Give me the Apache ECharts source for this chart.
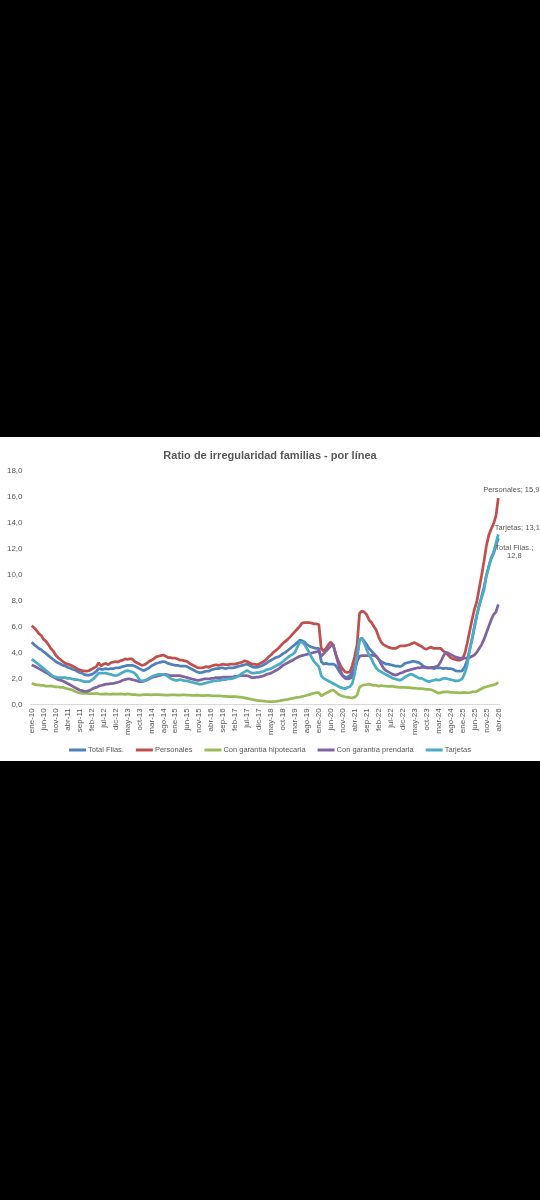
<!DOCTYPE html>
<html>
<head>
<meta charset="utf-8">
<script src="https://cdn.jsdelivr.net/npm/echarts@6/dist/echarts.min.js"></script>
<style>
  html, body { margin: 0; padding: 0; background: #000; }
  #panel { position: absolute; left: 0; top: 437px; width: 540px; height: 324px; background: #fff; }
  #chart { position: absolute; left: 0; top: 0; width: 540px; height: 1200px; }
</style>
</head>
<body>
<div id="panel"></div>
<div id="chart"></div>
<script>
// ---- tick labels / categories ----
const monthNames = ['ene','feb','mar','abr','may','jun','jul','ago','sep','oct','nov','dic'];
const years = [2010,2011,2012,2013,2014,2015,2016,2017,2018,2019,2020,2021,2022,2023,2024,2025,2026];
const lastMonthOfLastYear = 4; // abr-26
const categories = [];
years.forEach(function (y, yi) {
  const n = (yi === years.length - 1) ? lastMonthOfLastYear : 12;
  for (let m = 0; m < n; m++) categories.push(monthNames[m] + '-' + String(y).slice(2));
});

// ---- series values (monthly, ene-10 .. abr-26) ----
const totalFlias = [
  4.78,4.6,4.45,4.3,4.2,4.05,3.9,3.75,3.6,3.45,3.3,3.2,
  3.1,3.0,2.95,2.85,2.8,2.7,2.65,2.55,2.45,2.4,2.3,2.25,
  2.25,2.3,2.4,2.55,2.75,2.7,2.7,2.75,2.7,2.75,2.75,2.8,
  2.8,2.85,2.9,2.95,3.0,3.0,3.0,2.95,2.85,2.75,2.65,2.6,
  2.7,2.8,2.95,3.05,3.15,3.2,3.25,3.3,3.25,3.15,3.1,3.05,
  3.0,3.0,2.95,2.95,2.95,2.9,2.8,2.7,2.6,2.5,2.45,2.45,
  2.5,2.55,2.55,2.65,2.7,2.75,2.75,2.8,2.8,2.75,2.8,2.8,
  2.8,2.85,2.9,2.95,3.0,3.05,3.1,3.0,2.9,2.85,2.85,2.9,
  2.95,3.05,3.15,3.3,3.4,3.5,3.6,3.65,3.75,3.9,4.0,4.15,
  4.3,4.45,4.6,4.75,4.95,4.9,4.8,4.6,4.5,4.4,4.35,4.3,
  4.3,3.3,3.1,3.15,3.1,3.1,3.1,3.0,2.7,2.4,2.2,2.1,
  2.1,2.2,2.5,2.9,3.6,4.95,5.1,4.85,4.6,4.3,4.1,3.9,
  3.7,3.45,3.3,3.2,3.1,3.1,3.05,3.0,2.95,2.95,2.9,3.0,
  3.15,3.2,3.25,3.3,3.3,3.25,3.2,3.05,2.9,2.85,2.8,2.8,
  2.75,2.8,2.8,2.8,2.75,2.8,2.75,2.75,2.7,2.6,2.55,2.55,
  2.6,2.9,3.4,4.2,5.0,5.9,6.8,7.6,8.3,9.0,9.9,10.6,
  11.2,11.6,12.2,12.8
];
const personales = [
  6.05,5.9,5.7,5.45,5.3,5.0,4.85,4.6,4.3,4.1,3.8,3.6,
  3.45,3.3,3.15,3.1,3.05,2.95,2.85,2.75,2.65,2.6,2.58,2.55,
  2.6,2.7,2.8,2.9,3.2,2.95,3.1,3.15,3.05,3.2,3.25,3.3,
  3.25,3.35,3.4,3.5,3.45,3.5,3.5,3.3,3.2,3.1,3.0,3.05,
  3.15,3.3,3.4,3.5,3.65,3.7,3.75,3.8,3.7,3.6,3.6,3.55,
  3.55,3.5,3.4,3.4,3.35,3.3,3.15,3.05,2.95,2.85,2.8,2.8,
  2.85,2.9,2.85,2.95,3.0,3.05,3.0,3.05,3.1,3.05,3.05,3.1,
  3.1,3.1,3.15,3.2,3.25,3.35,3.3,3.2,3.1,3.1,3.05,3.1,
  3.2,3.3,3.45,3.65,3.8,4.0,4.15,4.3,4.5,4.7,4.85,5.0,
  5.2,5.4,5.6,5.8,6.0,6.25,6.3,6.3,6.3,6.25,6.2,6.2,
  6.15,4.3,4.1,4.3,4.6,4.8,4.55,3.9,3.4,3.0,2.7,2.5,
  2.45,2.5,3.0,3.7,4.6,7.0,7.2,7.1,6.9,6.5,6.3,6.0,
  5.7,5.2,4.8,4.6,4.5,4.4,4.35,4.3,4.3,4.4,4.5,4.5,
  4.5,4.55,4.6,4.7,4.75,4.65,4.55,4.45,4.3,4.25,4.35,4.4,
  4.3,4.3,4.3,4.3,4.1,4.0,3.8,3.6,3.5,3.45,3.4,3.4,
  3.5,3.9,4.7,5.6,6.5,7.3,7.9,8.9,9.9,11.0,12.2,13.0,
  13.5,13.9,14.5,15.9
];
const hipotecaria = [
  1.62,1.55,1.5,1.5,1.45,1.45,1.4,1.4,1.42,1.38,1.35,1.35,
  1.3,1.3,1.25,1.2,1.15,1.1,1.0,0.92,0.88,0.85,0.85,0.85,
  0.83,0.82,0.82,0.85,0.8,0.78,0.78,0.8,0.78,0.77,0.8,0.78,
  0.78,0.8,0.78,0.77,0.8,0.78,0.75,0.74,0.72,0.7,0.72,0.74,
  0.75,0.74,0.72,0.74,0.75,0.74,0.72,0.72,0.7,0.7,0.72,0.72,
  0.72,0.7,0.7,0.72,0.72,0.7,0.7,0.68,0.68,0.7,0.68,0.66,
  0.66,0.68,0.68,0.66,0.65,0.65,0.64,0.64,0.62,0.62,0.6,0.6,
  0.6,0.6,0.58,0.56,0.53,0.5,0.46,0.42,0.38,0.34,0.3,0.28,
  0.26,0.24,0.22,0.21,0.2,0.2,0.22,0.25,0.28,0.32,0.35,0.38,
  0.42,0.45,0.5,0.53,0.56,0.6,0.64,0.7,0.75,0.8,0.85,0.9,
  0.9,0.65,0.75,0.85,0.95,1.05,1.1,0.95,0.8,0.7,0.62,0.58,
  0.55,0.52,0.5,0.55,0.7,1.3,1.45,1.5,1.52,1.55,1.5,1.45,
  1.45,1.4,1.45,1.42,1.4,1.38,1.4,1.38,1.35,1.32,1.3,1.3,
  1.3,1.28,1.28,1.25,1.25,1.22,1.2,1.2,1.18,1.15,1.15,1.12,
  1.05,0.95,0.85,0.9,0.95,0.95,0.95,0.92,0.92,0.9,0.9,0.88,
  0.9,0.92,0.88,0.9,0.95,0.95,1.0,1.1,1.2,1.3,1.35,1.4,
  1.45,1.5,1.55,1.7
];
const prendaria = [
  3.03,2.95,2.85,2.75,2.65,2.55,2.45,2.35,2.2,2.1,2.0,1.9,
  1.85,1.8,1.7,1.6,1.5,1.4,1.3,1.2,1.1,1.05,1.0,1.0,
  1.05,1.15,1.25,1.3,1.4,1.45,1.5,1.55,1.55,1.6,1.6,1.65,
  1.7,1.75,1.85,1.9,1.95,1.95,1.9,1.85,1.8,1.75,1.75,1.8,
  1.85,1.95,2.05,2.1,2.15,2.2,2.25,2.3,2.3,2.25,2.2,2.2,
  2.2,2.2,2.2,2.15,2.1,2.05,2.0,1.95,1.9,1.85,1.85,1.9,
  1.95,1.95,1.95,2.0,2.0,2.05,2.05,2.05,2.1,2.1,2.1,2.1,
  2.1,2.15,2.15,2.2,2.2,2.2,2.2,2.15,2.05,2.05,2.1,2.1,
  2.15,2.2,2.3,2.35,2.4,2.5,2.6,2.7,2.85,3.0,3.1,3.2,
  3.3,3.4,3.5,3.6,3.7,3.75,3.8,3.85,3.9,3.95,4.0,4.05,
  4.1,3.7,3.9,4.1,4.3,4.5,4.6,3.9,3.2,2.6,2.2,2.0,
  1.95,2.0,2.1,2.6,3.3,3.7,3.75,3.75,3.75,3.75,3.8,3.75,
  3.7,3.5,3.1,2.8,2.6,2.5,2.4,2.3,2.25,2.3,2.4,2.45,
  2.55,2.6,2.65,2.7,2.75,2.8,2.8,2.85,2.85,2.8,2.8,2.85,
  2.85,2.9,3.0,3.3,3.7,4.0,3.95,3.85,3.75,3.65,3.6,3.55,
  3.55,3.55,3.55,3.6,3.7,3.8,4.0,4.3,4.6,5.0,5.5,6.0,
  6.5,6.9,7.1,7.7
];
const tarjetas = [
  3.47,3.35,3.2,3.05,2.9,2.75,2.6,2.45,2.3,2.15,2.1,2.05,
  2.05,2.05,2.05,2.0,2.0,1.95,1.9,1.9,1.85,1.8,1.75,1.75,
  1.75,1.85,2.0,2.2,2.4,2.4,2.4,2.4,2.35,2.3,2.25,2.2,
  2.25,2.35,2.45,2.55,2.6,2.55,2.5,2.4,2.2,1.9,1.8,1.8,
  1.9,2.0,2.1,2.2,2.25,2.3,2.3,2.3,2.25,2.15,2.0,1.9,
  1.85,1.85,1.9,1.85,1.8,1.8,1.75,1.7,1.65,1.6,1.55,1.55,
  1.6,1.65,1.7,1.75,1.8,1.8,1.85,1.85,1.9,1.9,1.95,1.95,
  2.0,2.05,2.15,2.25,2.4,2.5,2.6,2.5,2.4,2.4,2.45,2.45,
  2.5,2.55,2.65,2.7,2.75,2.85,2.95,3.05,3.15,3.3,3.45,3.6,
  3.75,3.85,4.0,4.4,4.75,4.8,4.6,4.3,4.0,3.6,3.3,3.1,
  2.9,2.2,2.0,1.9,1.8,1.7,1.6,1.5,1.4,1.3,1.25,1.2,
  1.3,1.35,1.6,2.4,3.8,5.0,5.1,4.7,4.2,3.8,3.5,3.1,
  2.8,2.6,2.5,2.4,2.3,2.2,2.1,2.0,1.95,1.9,1.85,1.95,
  2.1,2.2,2.3,2.3,2.2,2.1,2.0,2.0,1.9,1.8,1.75,1.8,
  1.85,1.9,1.85,1.9,2.0,2.0,1.95,1.9,1.85,1.8,1.8,1.85,
  2.0,2.4,3.0,4.1,5.0,6.0,6.9,7.6,8.2,8.8,9.9,10.6,
  11.3,11.7,12.4,13.1
];
const seriesNames = ['Total Flias.','Personales','Con garantía hipotecaria','Con garantía prendaria','Tarjetas'];
const yTicks = { min: 0, max: 18, interval: 2 };

// ---- styling ----
const FONT = '"Liberation Sans Narrow","Liberation Sans",Arial,sans-serif';
const TEXT = '#595959';
const COLORS = ['#4F81BD','#C0504D','#9BBB59','#8064A2','#4BACC6'];
const LW = 2.75;
function fmt(v) { return Number(v).toFixed(1).replace('.', ','); }
function lastVal(p) { return Array.isArray(p.value) ? p.value[p.value.length - 1] : p.value; }

function endLabel(prefix, offset) {
  return {
    show: true, distance: 0, align: 'center', verticalAlign: 'middle', offset: offset,
    fontFamily: FONT, fontSize: 7.5, color: TEXT, lineHeight: 8,
    formatter: function (p) { return prefix + fmt(lastVal(p)); }
  };
}

const chart = echarts.init(document.getElementById('chart'), null, { renderer: 'canvas' });
const option = {
  animation: false,
  backgroundColor: 'transparent',
  color: COLORS,
  title: {
    text: 'Ratio de irregularidad familias - por línea',
    left: 'center', top: 445.5,
    textStyle: { fontFamily: FONT, fontSize: 11, fontWeight: 'bold', color: TEXT }
  },
  grid: { left: 30.5, right: 40.5, top: 470.7, bottom: 495.7, containLabel: false },
  xAxis: {
    type: 'category', data: categories, boundaryGap: true,
    axisLine: { lineStyle: { color: '#d9d9d9', width: 1 } },
    axisTick: { interval: 4, alignWithLabel: true, length: 4, lineStyle: { color: '#d9d9d9' } },
    axisLabel: { interval: 4, rotate: 90, fontFamily: FONT, fontSize: 8, color: TEXT, margin: 4 }
  },
  yAxis: {
    type: 'value', min: yTicks.min, max: yTicks.max, interval: yTicks.interval,
    axisLine: { show: false }, axisTick: { show: false }, splitLine: { show: false },
    axisLabel: { formatter: fmt, fontFamily: FONT, fontSize: 8, color: TEXT, margin: 8 }
  },
  legend: {
    data: seriesNames, top: 741, left: 'center', icon: 'rect', itemWidth: 17, itemHeight: 3,
    itemGap: 12, textStyle: { fontFamily: FONT, fontSize: 7.5, color: TEXT, padding: [0, 0, 0, -3] }
  },
  series: [
    { name: seriesNames[0], type: 'line', showSymbol: false, lineStyle: { width: LW }, data: totalFlias,
      endLabel: endLabel('Total Flias.;\n', [16, 13.5]) },
    { name: seriesNames[1], type: 'line', showSymbol: false, lineStyle: { width: LW }, data: personales,
      endLabel: endLabel('Personales; ', [13, -8]) },
    { name: seriesNames[2], type: 'line', showSymbol: false, lineStyle: { width: LW }, data: hipotecaria },
    { name: seriesNames[3], type: 'line', showSymbol: false, lineStyle: { width: LW }, data: prendaria },
    { name: seriesNames[4], type: 'line', showSymbol: false, lineStyle: { width: LW }, data: tarjetas,
      endLabel: endLabel('Tarjetas; ', [19, -6.6]) }
  ]
};
chart.setOption(option);
</script>
</body>
</html>
